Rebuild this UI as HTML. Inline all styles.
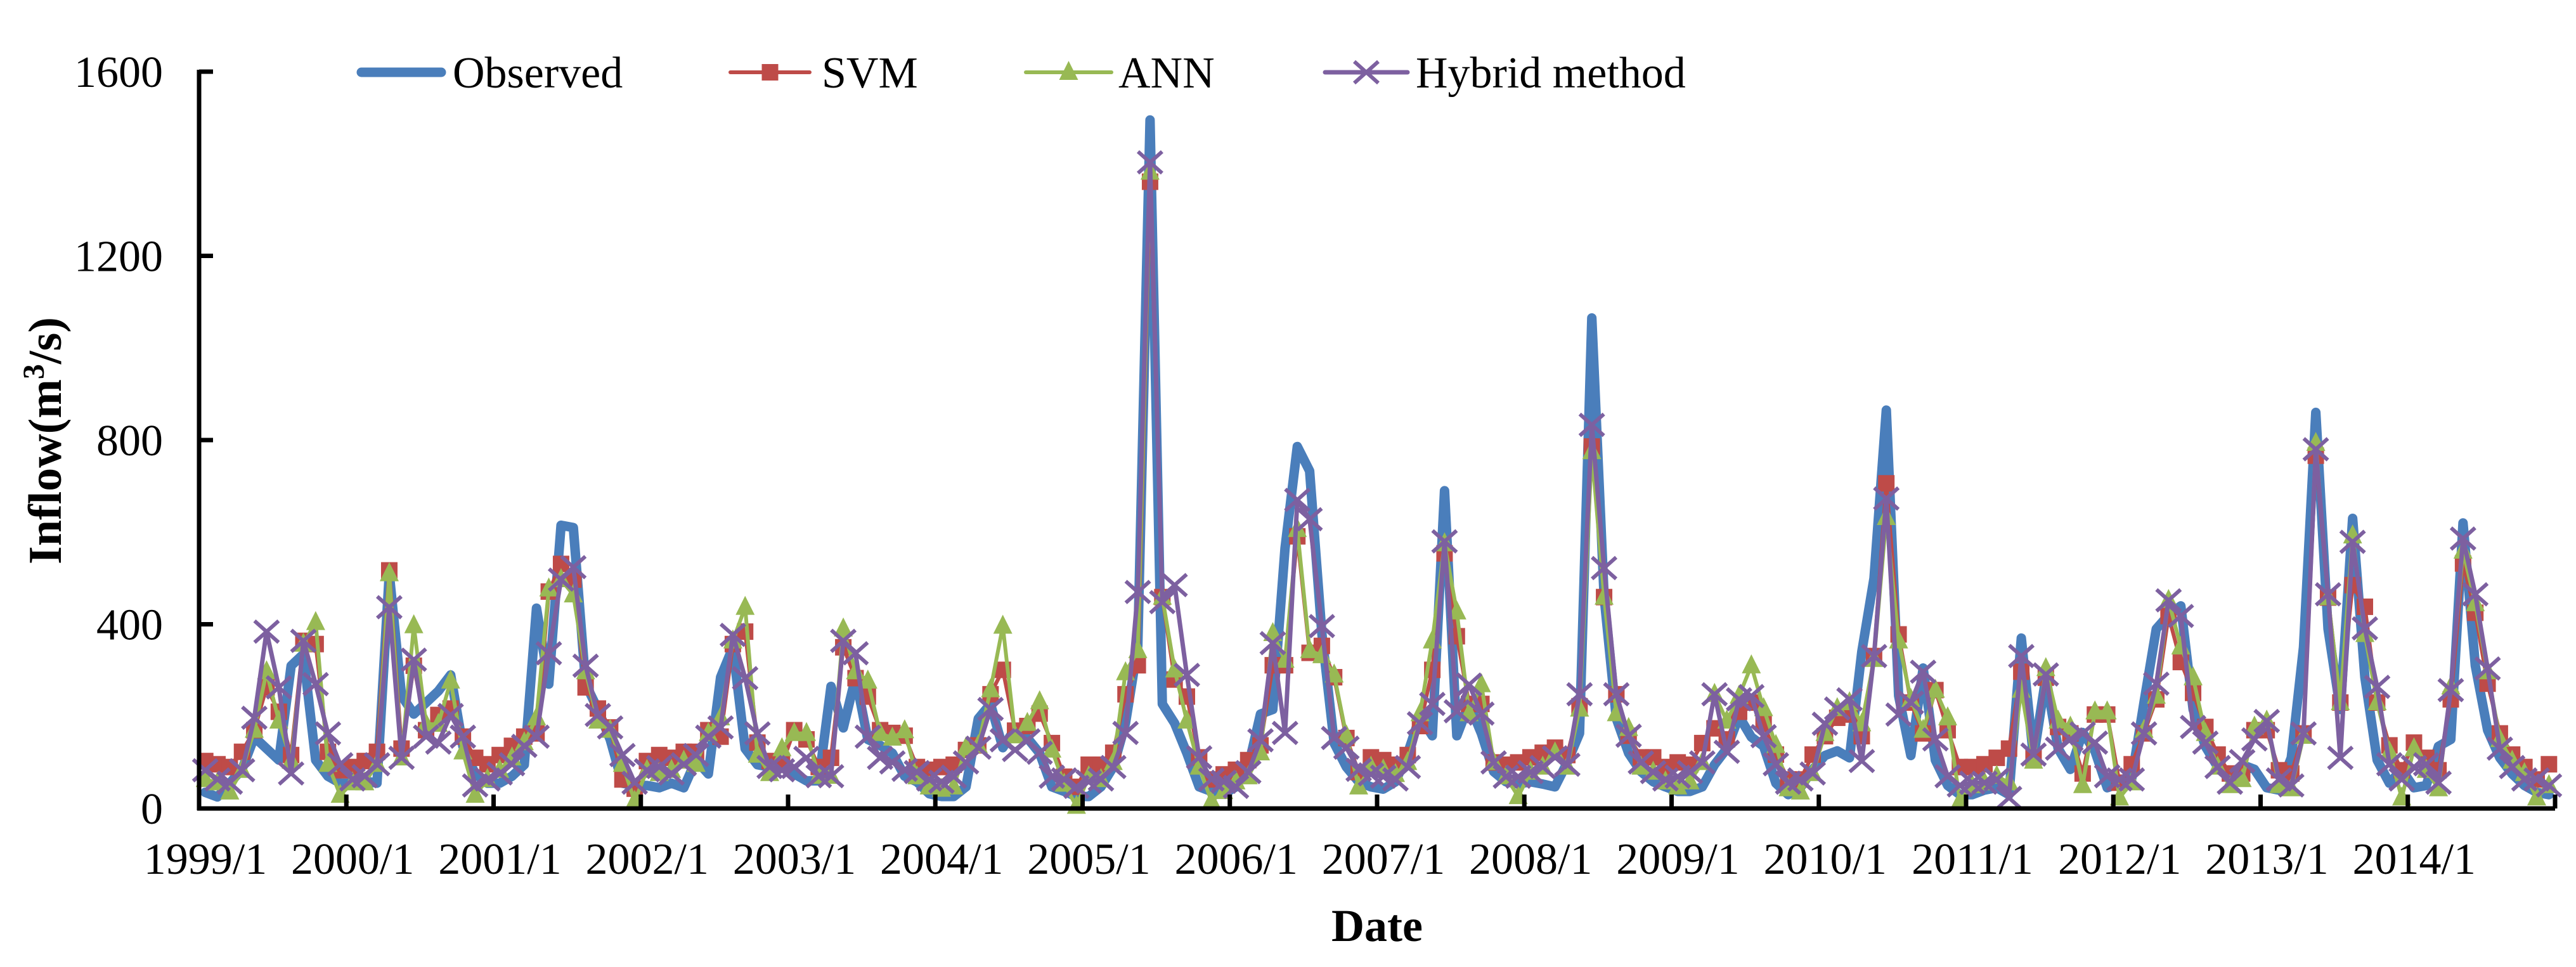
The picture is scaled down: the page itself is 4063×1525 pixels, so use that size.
<!DOCTYPE html>
<html><head><meta charset="utf-8"><style>
html,body{margin:0;padding:0;background:#fff;}
svg{display:block;}
text{font-family:"Liberation Serif","Times New Roman",serif;fill:#000;}
</style></head><body>
<svg id="chart" width="4063" height="1525" viewBox="0 0 4063 1525" xmlns="http://www.w3.org/2000/svg">
<rect width="4063" height="1525" fill="#fff"/>
<g id="series"></g>
<g id="axes"></g>
<g id="legend"></g>
<text transform="translate(96,695) rotate(-90)" text-anchor="middle" font-size="74" font-weight="bold">Inflow(m<tspan font-size="48" dy="-27">3</tspan><tspan dy="27">/s)</tspan></text>
<text x="2172" y="1484" text-anchor="middle" font-size="72" font-weight="bold">Date</text>
</svg>
<script>
const yTicks = [0,400,800,1200,1600];
const yearLabels = ["1999/1","2000/1","2001/1","2002/1","2003/1","2004/1","2005/1","2006/1","2007/1","2008/1","2009/1","2010/1","2011/1","2012/1","2013/1","2014/1"];
const observed = [35,25,55,85,155,130,105,310,335,105,70,55,
55,60,55,510,245,205,230,255,290,135,75,55,
55,70,95,435,270,615,610,270,215,150,55,50,
50,45,55,45,105,75,285,350,130,95,90,90,
75,60,60,265,175,285,150,137,120,70,58,32,
26,26,47,195,227,132,174,153,120,47,37,26,
26,47,90,185,353,1495,227,185,120,47,37,32,
47,90,205,215,565,786,733,380,142,90,58,47,
42,58,120,200,158,690,158,227,163,80,58,53,
58,53,47,100,163,1065,460,195,120,80,58,47,
37,37,47,95,130,200,155,135,55,30,45,85,
115,125,110,340,500,865,245,115,305,105,50,30,
30,40,45,30,370,110,285,130,85,165,125,45,
55,65,230,390,420,440,215,135,90,65,95,85,
45,40,110,350,860,390,215,630,285,105,55,85,
45,50,135,150,620,310,170,110,75,50,35,30];
const svm = [103,96,90,123,170,263,210,116,364,357,123,83,
90,103,123,517,130,310,170,203,217,156,110,96,
116,136,156,163,471,531,497,263,217,176,63,43,
103,116,110,123,123,170,156,357,384,143,103,96,
170,150,90,110,350,283,243,170,164,158,90,84,
90,95,127,137,248,301,169,179,206,142,69,47,
95,95,121,248,311,1361,459,280,243,111,63,74,
84,105,137,311,311,591,338,353,285,153,79,111,
105,95,116,179,301,554,374,227,227,100,95,100,
111,121,132,116,222,786,459,248,158,111,111,90,
100,95,142,174,150,210,230,184,117,63,63,117,
157,197,204,157,331,706,378,230,163,257,170,90,
90,96,110,130,297,110,284,177,163,76,204,204,
56,96,163,237,418,318,251,177,117,76,76,170,
170,83,76,163,766,458,230,485,438,230,137,83,
143,110,83,237,532,425,271,163,117,90,63,96];
const ann = [63,56,36,83,170,297,190,103,357,404,96,29,
56,56,96,510,110,397,183,183,277,123,29,63,
83,110,143,197,477,497,464,297,190,170,96,16,
83,76,83,103,96,163,197,364,437,116,76,130,
163,163,70,70,390,297,277,163,153,169,69,47,
42,47,132,137,258,396,158,185,232,127,53,5,
69,63,100,295,343,1382,459,301,190,90,16,37,
58,69,121,380,322,606,343,332,290,158,47,90,
84,74,100,206,364,575,427,206,269,100,69,26,
79,90,121,90,216,775,459,206,174,90,79,58,
47,58,100,248,190,244,310,217,137,43,36,76,
163,217,230,184,324,632,364,237,170,257,197,16,
50,56,70,56,257,103,304,190,177,50,210,210,
23,56,170,244,452,351,284,163,90,50,63,177,
190,50,43,157,793,458,230,592,378,230,123,23,
130,83,43,264,559,445,297,150,103,76,23,50];
const hybrid = [83,63,56,83,197,384,263,76,364,270,163,96,
63,70,96,437,110,323,156,143,203,156,50,63,
76,96,136,156,337,497,524,310,203,176,116,56,
83,90,76,96,116,156,176,377,283,163,90,83,
90,110,70,70,364,337,156,110,100,84,79,63,
58,69,100,132,216,148,127,148,121,69,63,47,
58,63,90,164,470,1403,448,485,290,111,63,58,
47,79,148,359,164,670,628,396,153,132,84,74,
69,63,90,185,227,580,211,269,206,100,69,69,
79,90,111,95,248,833,522,248,158,100,79,63,
69,79,100,248,123,237,244,157,96,56,63,76,
184,217,237,103,331,673,204,230,297,150,70,50,
56,56,63,23,331,117,291,130,150,163,143,70,
63,63,163,271,452,418,177,143,90,56,103,150,
190,63,50,163,780,465,110,579,391,264,96,63,
90,96,56,257,586,465,304,130,90,63,63,50];

const NS = "http://www.w3.org/2000/svg";
const X0 = 314, X1 = 4030, Y0 = 1275, Y1 = 113, YMAX = 1600;
const N = observed.length;
const step = (X1 - X0) / N;
function xPos(i){ return X0 + (i + 0.5) * step; }
function yPos(v){ return Y0 - (v / YMAX) * (Y0 - Y1); }
function mk(tag, attrs, parent){ const e = document.createElementNS(NS, tag); for (const k in attrs) e.setAttribute(k, attrs[k]); parent.appendChild(e); return e; }

const C = {obs:"#4a7ebb", svm:"#be4b48", ann:"#98b954", hyb:"#7d60a0"};
const gS = document.getElementById("series");
const gA = document.getElementById("axes");
const gL = document.getElementById("legend");

function marker(type, x, y, color, parent){
  let m;
  if (type === "square"){
    m = mk("rect", {x:x-13, y:y-13, width:26, height:26, fill:color}, parent);
  } else if (type === "triangle"){
    m = mk("polygon", {points:`${x},${y-18} ${x+15},${y+12} ${x-15},${y+12}`, fill:color}, parent);
  } else if (type === "x"){
    m = mk("path", {d:`M${x-19},${y-17}L${x+19},${y+17}M${x-19},${y+17}L${x+19},${y-17}`, stroke:color, "stroke-width":6, fill:"none"}, parent);
  }
  return m;
}

function drawSeries(data, color, width, mtype, name){
  const g = mk("g", {}, gS);
  
  
  const pts = data.map((v,i)=>xPos(i).toFixed(1)+","+yPos(v).toFixed(1)).join(" ");
  const pl = mk("polyline", {points:pts, fill:"none", stroke:color, "stroke-width":width, "stroke-linejoin":"round", "stroke-linecap":"round"}, g);
  
  
  if (mtype){
    data.forEach((v,i)=>{
      const m = marker(mtype, xPos(i), yPos(v), color, g);
      
      
    });
  }
}
drawSeries(observed, C.obs, 15, null, "observed");
drawSeries(svm, C.svm, 6, "square", "svm");
drawSeries(ann, C.ann, 6, "triangle", "ann");
drawSeries(hybrid, C.hyb, 7, "x", "hybrid");

// axes
const ya = mk("line", {x1:X0, y1:Y1-3, x2:X0, y2:Y0+3, stroke:"#000", "stroke-width":7}, gA);


const xa = mk("line", {x1:X0-3, y1:Y0, x2:X1, y2:Y0, stroke:"#000", "stroke-width":7}, gA);


yTicks.forEach(v=>{
  const y = yPos(v);
  const t = mk("line", {x1:X0, y1:y, x2:X0+22, y2:y, stroke:"#000", "stroke-width":7}, gA);
  
  
  const l = mk("text", {x:257, y:y+24, "text-anchor":"end", "font-size":70}, gA);
  l.textContent = String(v);
  
  
});
yearLabels.forEach((lab,k)=>{
  const x = X0 + k*12*step;
  if (k > 0){
    const t = mk("line", {x1:x, y1:Y0, x2:x, y2:Y0-22, stroke:"#000", "stroke-width":7}, gA);
    
    
  }
  const l = mk("text", {x:x+10, y:1378, "text-anchor":"middle", "font-size":70}, gA);
  l.textContent = lab;
  
  
});
const te = mk("line", {x1:X1, y1:Y0, x2:X1, y2:Y0-22, stroke:"#000", "stroke-width":7}, gA);



// legend
const legendNames = ["Observed","SVM","ANN","Hybrid method"];
const legendLines = [[570,696,714],[1152,1277,1296],[1618,1753,1764],[2090,2220,2233]];
const legendColors = [C.obs, C.svm, C.ann, C.hyb];
const legendMarkers = [null,"square","triangle","x"];
const legendWidths = [15,6,6,7];
legendNames.forEach((n,i)=>{
  const g = mk("g", {}, gL);
  
  
  const [a,b,tx] = legendLines[i];
  mk("line", {x1:a, y1:114, x2:b, y2:114, stroke:legendColors[i], "stroke-width":legendWidths[i], "stroke-linecap":"round"}, g);
  if (legendMarkers[i]) marker(legendMarkers[i], (a+b)/2, 114, legendColors[i], g);
  const t = mk("text", {x:tx, y:138, "font-size":70}, g);
  t.textContent = n;
});
</script>
</body></html>
